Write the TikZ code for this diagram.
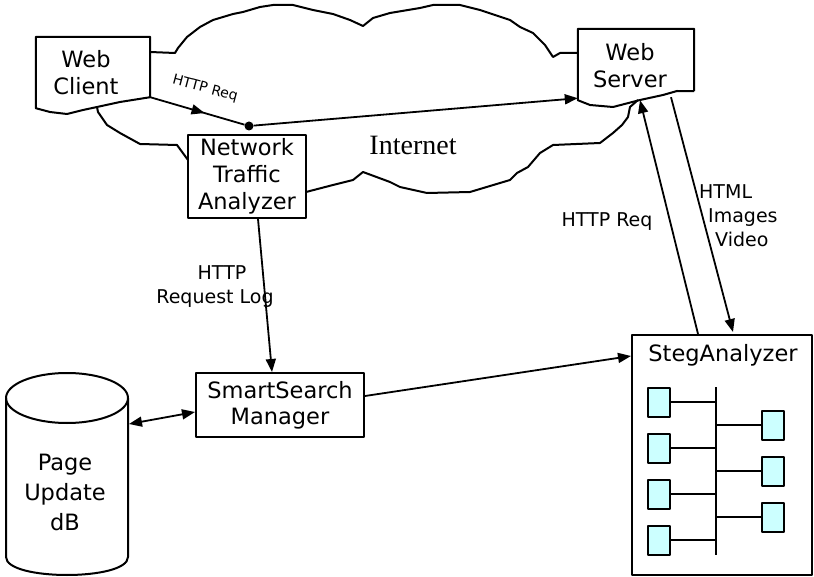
\documentclass[tikz,border=0pt]{standalone}
\usepackage{fontspec}
\setmainfont{DejaVu Sans}
\newfontfamily\inetfont{Liberation Serif}
\usetikzlibrary{arrows.meta,calc}
\definecolor{cellfill}{HTML}{CCFFFF}
\begin{document}
\begin{tikzpicture}[x=1pt,y=-1pt,
  line join=round,
  box/.style={draw, fill=white, line width=2pt, inner sep=0pt},
  ghost/.style={draw=none, inner sep=0pt},
  txt/.style={font=\fontsize{22.5}{27}\selectfont, align=center, inner sep=0pt},
  lbl/.style={font=\fontsize{19}{24}\selectfont, inner sep=0pt},
  edge/.style={line width=2pt},
  arr/.style={-{Triangle[length=13pt,width=10pt]}, line width=1.8pt},
  darr/.style={{Triangle[length=13pt,width=10pt]}-{Triangle[length=13pt,width=10pt]}, line width=1.8pt},
  cell/.style={draw, fill=cellfill, line width=2pt, minimum width=22pt, minimum height=29pt, inner sep=0pt},
]
\useasboundingbox (0,0) rectangle (814,577);

% ---------- cloud (Internet) ----------
\draw[edge] (150,52) -- (175,53) -- (178,48) -- (187,37) -- (200,27) -- (213,20) -- (233,14)
  -- (243,12) -- (260,7) -- (273,5) -- (293,5) -- (313,10) -- (333,14) -- (350,20) -- (363,26)
  -- (373,18) -- (390,13) -- (420,8) -- (433,5) -- (460,5) -- (480,10) -- (510,20) -- (520,27)
  -- (533,33) -- (545,45) -- (553,57) -- (560,53) -- (578,53);
\draw[edge] (638,100) -- (630,107) -- (628,117) -- (622,125) -- (613,133) -- (600,143)
  -- (553,145) -- (540,153) -- (528,167) -- (517,173) -- (510,180) -- (470,192) -- (427,193)
  -- (400,187) -- (390,182) -- (363,172) -- (353,180) -- (333,185) -- (306,192);
\draw[edge] (97,107) -- (98,112) -- (107,125) -- (120,133) -- (140,144) -- (177,145) -- (188,160);
\node[inner sep=0pt, font=\inetfont\fontsize{28}{32}\selectfont] (inet) at (413,145) {Internet};

% ---------- Web Client ----------
\node[ghost, minimum width=114pt, minimum height=60pt] (wc) at (93,67) {};
\draw[edge] (wc.south east) -- (wc.north east) -- (wc.north west) -- ($(wc.south west)+(0,11)$)
  -- (50,112) -- (67,114) -- (83,110) -- (97,107) -- (120,102) -- (wc.south east);
\node[txt] (wctext) at (86,73) {Web\\Client};

% ---------- Web Server ----------
\node[ghost, minimum width=116pt, minimum height=62pt] (ws) at (636,60) {};
\draw[edge] (ws.south east) -- (ws.north east) -- (ws.north west) -- ($(ws.south west)+(0,9)$)
  -- (590,105) -- (613,107) -- (640,100) -- (663,95) -- (677,91) -- (ws.south east);
\node[txt] (wstext) at (630,66) {Web\\Server};

% ---------- Network Traffic Analyzer ----------
\node[box, txt, minimum width=118pt, minimum height=83pt] (nta) at (247,176.5) {Network\\Traffic\\Analyzer};

% ---------- dot on the request path ----------
\node[circle, fill, inner sep=0pt, minimum size=9pt] (dot) at (249,126) {};

% ---------- SmartSearch Manager ----------
\node[box, txt, font=\fontsize{22.5}{26}\selectfont, minimum width=168pt, minimum height=64pt] (ssm) at (280,405) {SmartSearch\\Manager};

% ---------- Page Update dB (cylinder) ----------
\node[ghost, minimum width=122pt, minimum height=180pt] (db) at (67,475) {};
\draw[edge, fill=white] (6,398) -- (6,557) .. controls (6,581) and (128,581) .. (128,557) -- (128,398);
\draw[edge] (67,398) ellipse [x radius=61pt, y radius=25pt];
\node[txt, font=\fontsize{22.5}{30}\selectfont] (dbtext) at (65,492) {Page\\Update\\dB};
\coordinate (dbR) at (129,424);

% ---------- StegAnalyzer ----------
\node[box, minimum width=180pt, minimum height=240pt] (sa) at (722,455) {};
\node[txt] (satitle) at (723,355) {StegAnalyzer};
\node[cell] (l1) at (659,402) {};
\node[cell] (l2) at (659,448) {};
\node[cell] (l3) at (659,494) {};
\node[cell] (l4) at (659,540) {};
\node[cell] (r1) at (773,425) {};
\node[cell] (r2) at (773,471) {};
\node[cell] (r3) at (773,517) {};
\coordinate (bt) at (716,387);
\coordinate (bb) at (716,555);
\draw[edge] (bt) -- (bb);
\foreach \c in {l1,l2,l3,l4} { \draw[edge] (\c.east) -- (\c.east -| bt); }
\foreach \c in {r1,r2,r3} { \draw[edge] (\c.west) -- (\c.west -| bt); }

% ---------- connectors ----------
\draw[arr] (wc.south east) -- ($(wc.south east)!0.55!(dot)$);
\draw[line width=1.8pt] ($(wc.south east)!0.5!(dot)$) -- (dot);
\node[font=\fontsize{14}{16}\selectfont, rotate=-15, inner sep=0pt] (lblreq1) at (205,89) {HTTP Req};
\draw[arr] (dot) -- ($(ws.south west)+(0,7)$);

\draw[arr] ($(nta.south)+(11,0)$) -- ($(ssm.north)+(-8,0)$);
\node[lbl, align=center] (lbllog) at (215,287) {\hspace*{14pt}HTTP\\Request Log};

\draw[darr] (dbR) -- ($(ssm.west)+(0,7)$);
\draw[arr] ($(ssm.east)+(0,-9)$) -- ($(sa.north west)+(0,22)$);

\draw[arr] ($(sa.north)+(-24,0)$) -- ($(ws.south)+(4,9)$);
\draw[arr] ($(ws.south)+(35,6)$) -- ($(sa.north)+(11,-2)$);
\node[lbl] (lblreq2) at (607,222) {HTTP Req};
\node[lbl, align=left, anchor=north west] (lblhtml) at (699,184) {HTML\\\hspace*{9pt}Images\\\hspace*{16pt}Video};
\end{tikzpicture}
\end{document}
